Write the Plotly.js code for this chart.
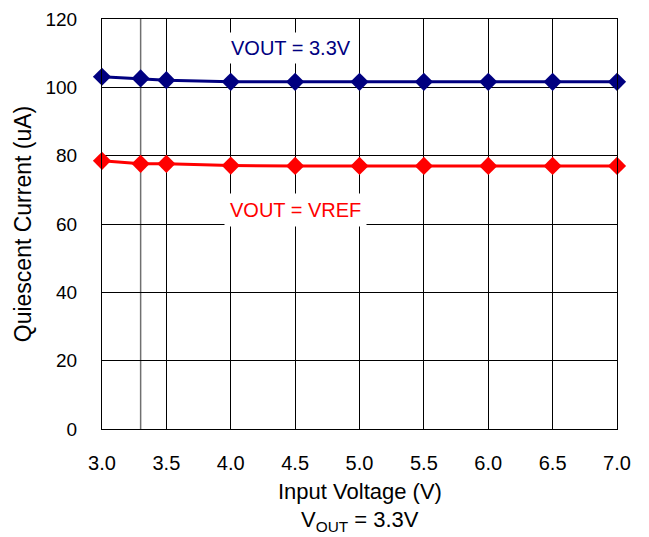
<!DOCTYPE html>
<html>
<head>
<meta charset="utf-8">
<script src="https://cdn.plot.ly/plotly-3.0.1.min.js"></script>
<style>html,body{margin:0;padding:0;background:#fff;}#chart{width:649px;height:537px;}</style>
</head>
<body>
<div id="chart"></div>
<script>
const inputVoltage = [3.0, 3.3, 3.5, 4.0, 4.5, 5.0, 5.5, 6.0, 6.5, 7.0];
const iqVout33 = [103.1, 102.6, 102.1, 101.6, 101.6, 101.6, 101.6, 101.6, 101.6, 101.6];
const iqVref = [78.5, 77.6, 77.6, 77.1, 77.0, 77.0, 77.0, 77.0, 77.0, 77.0];
const xTicks = [3.0, 3.5, 4.0, 4.5, 5.0, 5.5, 6.0, 6.5, 7.0];
const xTickLabels = ['3.0','3.5','4.0','4.5','5.0','5.5','6.0','6.5','7.0'];
const yTicks = [0, 20, 40, 60, 80, 100, 120];
const extraGridX = [3.3];

const font = 'Liberation Sans, Arial, sans-serif';

const traces = [
  {x: inputVoltage, y: iqVref, mode: 'lines+markers', name: 'VOUT = VREF',
   line: {color: '#ff0000', width: 3}, marker: {symbol: 'diamond', size: 14, color: '#ff0000'}, cliponaxis: false},
  {x: inputVoltage, y: iqVout33, mode: 'lines+markers', name: 'VOUT = 3.3V',
   line: {color: '#000080', width: 3}, marker: {symbol: 'diamond', size: 14, color: '#000080'}, cliponaxis: false}
];

const layout = {
  width: 649, height: 537,
  margin: {l: 102, r: 32, t: 19, b: 108},
  paper_bgcolor: '#fff', plot_bgcolor: '#fff',
  showlegend: false,
  font: {family: font, size: 19, color: '#000'},
  xaxis: {range: [3.0, 7.0], tickvals: xTicks, ticktext: xTickLabels,
    showgrid: true, gridcolor: '#000', gridwidth: 1, zeroline: false,
    showline: true, linecolor: '#000', linewidth: 1, mirror: true,
    ticks: '', tickfont: {size: 20, family: font}, ticklabelstandoff: 16},
  yaxis: {range: [0, 120], tickvals: yTicks,
    showgrid: true, gridcolor: '#000', gridwidth: 1, zeroline: false,
    showline: true, linecolor: '#000', linewidth: 1, mirror: true,
    ticks: '', tickfont: {size: 19, family: font}, ticklabelstandoff: 20,
    title: {text: 'Quiescent Current (uA)', font: {size: 23, family: font}, standoff: 7}},
  shapes: extraGridX.map(v => ({type: 'line', xref: 'x', yref: 'paper', x0: v, x1: v, y0: 0, y1: 1,
    line: {color: '#707070', width: 1.5}, layer: 'below'})),
  annotations: [
    {xref: 'paper', yref: 'paper', x: 0.5, y: -0.153, yanchor: 'middle', showarrow: false,
     text: 'Input Voltage (V)', font: {size: 22, family: font}},
    {xref: 'paper', yref: 'paper', x: 0.5, y: -0.225, yanchor: 'middle', showarrow: false,
     text: 'V<sub>OUT</sub> = 3.3V', font: {size: 22, family: font}},
    {xref: 'x', yref: 'y', x: 4.47, y: 111.5, showarrow: false, text: 'VOUT = 3.3V',
     font: {size: 20, family: font, color: '#000080'}, bgcolor: '#fff', borderpad: 4},
    {xref: 'x', yref: 'y', x: 4.50, y: 64.1, showarrow: false, text: 'VOUT = VREF',
     font: {size: 20, family: font, color: '#ff0000'}, bgcolor: '#fff', borderpad: 5}
  ]
};

Plotly.newPlot('chart', traces, layout, {displayModeBar: false, staticPlot: true});
</script>
</body>
</html>
